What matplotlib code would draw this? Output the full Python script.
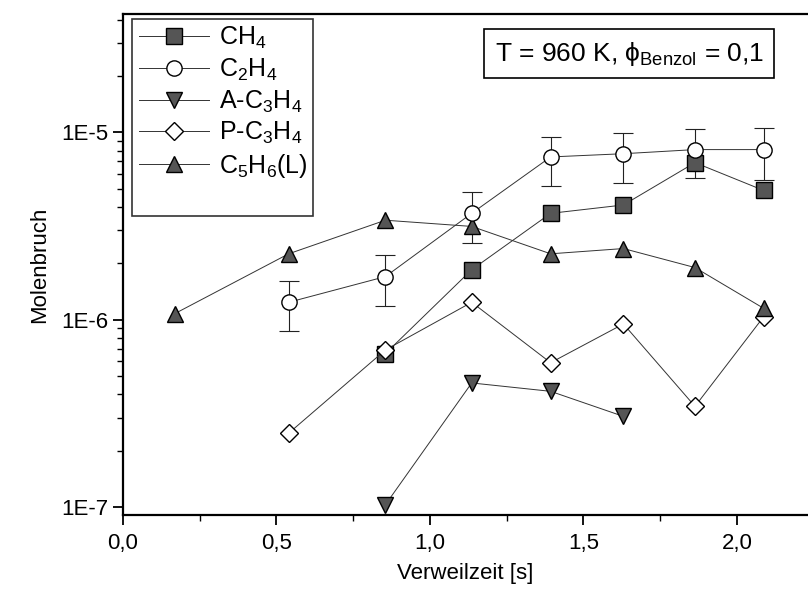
import math
import matplotlib
matplotlib.use("Agg")
import matplotlib.pyplot as plt
from matplotlib.lines import Line2D
from matplotlib.ticker import FixedLocator, LogLocator, NullFormatter, FuncFormatter

plt.rcParams['font.family'] = ['Liberation Sans', 'DejaVu Sans']
plt.rcParams['mathtext.fontset'] = 'custom'
plt.rcParams['mathtext.rm'] = 'Liberation Sans'
plt.rcParams['mathtext.it'] = 'Liberation Sans'

# Verweilzeit [s]
t_all = [0.17, 0.54, 0.855, 1.136, 1.393, 1.63, 1.863, 2.087]

ch4_t = [0.855, 1.136, 1.393, 1.63, 1.863, 2.087]
ch4 = [6.6e-7, 1.85e-6, 3.7e-6, 4.1e-6, 6.9e-6, 4.9e-6]

c2h4_t = [0.54, 0.855, 1.136, 1.393, 1.63, 1.863, 2.087]
c2h4 = [1.24e-6, 1.7e-6, 3.7e-6, 7.4e-6, 7.7e-6, 8.1e-6, 8.1e-6]
c2h4_hi = [1.62e-6, 2.23e-6, 4.8e-6, 9.5e-6, 9.9e-6, 1.04e-5, 1.05e-5]
c2h4_lo = [0.87e-6, 1.19e-6, 2.58e-6, 5.2e-6, 5.4e-6, 5.7e-6, 5.6e-6]

ac3h4_t = [0.855, 1.136, 1.393, 1.63]
ac3h4 = [1.03e-7, 4.6e-7, 4.15e-7, 3.05e-7]

pc3h4_t = [0.54, 0.855, 1.136, 1.393, 1.63, 1.863, 2.087]
pc3h4 = [2.48e-7, 6.9e-7, 1.24e-6, 5.9e-7, 9.5e-7, 3.45e-7, 1.04e-6]

c5h6 = [1.08e-6, 2.25e-6, 3.4e-6, 3.15e-6, 2.25e-6, 2.4e-6, 1.9e-6, 1.15e-6]

labels = ['CH$_4$', 'C$_2$H$_4$', 'A-C$_3$H$_4$', 'P-C$_3$H$_4$', 'C$_5$H$_6$(L)']

fig = plt.figure(figsize=(8.08, 5.99), dpi=100)
ax = fig.add_axes([0.152, 0.140, 0.848, 0.837])

line_kw = dict(color='#333333', linewidth=0.7, markersize=11,
               markeredgecolor='black', markeredgewidth=1.0)
fill = '#555555'

ax.errorbar(c2h4_t, c2h4,
            yerr=[[v - lo for v, lo in zip(c2h4, c2h4_lo)],
                  [hi - v for v, hi in zip(c2h4, c2h4_hi)]],
            fmt='none', ecolor='#222222', elinewidth=0.8, capsize=7, capthick=0.8, zorder=2)

ax.plot(ch4_t, ch4, marker='s', markerfacecolor=fill, label=labels[0], zorder=3, **line_kw)
ax.plot(c2h4_t, c2h4, marker='o', markerfacecolor='white', label=labels[1], zorder=4, **line_kw)
ax.plot(ac3h4_t, ac3h4, marker='v', markerfacecolor=fill, label=labels[2], zorder=3, **line_kw)
ax.plot(pc3h4_t, pc3h4, marker='D', markerfacecolor='white', label=labels[3], zorder=3,
        **{**line_kw, 'markersize': 9})
ax.plot(t_all, c5h6, marker='^', markerfacecolor=fill, label=labels[4], zorder=3, **line_kw)

ax.set_yscale('log')
ax.set_xlim(0, 2.231)
ax.set_ylim(9.06e-8, 4.3e-5)

ax.yaxis.set_major_locator(FixedLocator([1e-7, 1e-6, 1e-5]))
ax.yaxis.set_major_formatter(FuncFormatter(lambda v, p: '1E%d' % round(math.log10(v))))
ax.yaxis.set_minor_locator(LogLocator(base=10, subs=range(2, 10)))
ax.yaxis.set_minor_formatter(NullFormatter())

ax.xaxis.set_major_locator(FixedLocator([0, 0.5, 1.0, 1.5, 2.0]))
ax.xaxis.set_minor_locator(FixedLocator([0.25, 0.75, 1.25, 1.75, 2.25]))
ax.xaxis.set_major_formatter(FuncFormatter(lambda v, p: ('%.1f' % v).replace('.', ',')))

ax.tick_params(which='major', direction='out', length=7, width=1.3, labelsize=16)
ax.tick_params(which='minor', direction='out', length=4, width=1.0)
ax.tick_params(axis='x', pad=6)

for s in ['left', 'bottom', 'top']:
    ax.spines[s].set_linewidth(1.6)
ax.spines['right'].set_visible(False)

ax.set_xlabel('Verweilzeit [s]', fontsize=16, labelpad=6)
ax.set_ylabel('Molenbruch', fontsize=16, labelpad=8)

handles, labs = ax.get_legend_handles_labels()
handles.append(Line2D([], [], linestyle='none'))
labs.append(' ')
leg = ax.legend(handles, labs, loc='upper left', bbox_to_anchor=(0.014, 0.99), fontsize=18,
                frameon=True, fancybox=False, edgecolor='black', handlelength=2.8,
                handletextpad=0.4, labelspacing=0.22, borderpad=0.25, borderaxespad=0)
leg.get_frame().set_linewidth(1.2)

ax.text(0.739, 0.92, r'T = 960 K, $\phi_{\mathrm{Benzol}}$ = 0,1', transform=ax.transAxes,
        ha='center', va='center', fontsize=19,
        bbox=dict(boxstyle='square,pad=0.4', facecolor='white', edgecolor='black', linewidth=1.2))

fig.savefig('out.png', dpi=100)
